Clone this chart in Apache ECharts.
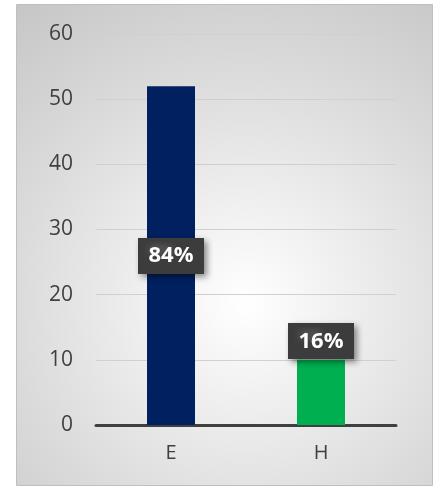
<!DOCTYPE html>
<html><head><meta charset="utf-8">
<script src="https://cdn.jsdelivr.net/npm/echarts@6/dist/echarts.min.js"></script>
<style>html,body{margin:0;padding:0;background:#fff}#c{width:435px;height:487px}</style>
</head><body><div id="c"></div>
<script>
const categories = ['E', 'H'];
const values = [52, 10];
const labels = ['84%', '16%'];
const barColors = ['#002060', '#00B050'];
const yTicks = { min: 0, max: 60, interval: 10 };

function makePattern() {
  const c = document.createElement('canvas');
  c.width = 6; c.height = 6;
  const g = c.getContext('2d');
  g.fillStyle = '#3c3c3c'; g.fillRect(0, 0, 6, 6);
  g.fillStyle = '#4e4e4e'; g.fillRect(1, 1, 2, 2);
  return c;
}
const pat = makePattern();

const chart = echarts.init(document.getElementById('c'), null, { renderer: 'canvas' });
chart.setOption({
  animation: false,
  graphic: [{
    type: 'rect', z: -10, silent: true,
    shape: { x: 16.5, y: 4.5, width: 416, height: 481 },
    style: {
      fill: { type: 'radial', x: 0.55, y: 0.62, r: 0.9,
        colorStops: [{ offset: 0, color: '#ffffff' }, { offset: 0.6, color: '#dcdcdc' }, { offset: 1, color: '#c6c6c6' }] },
      stroke: '#bfbfbf', lineWidth: 1
    }
  }],
  grid: { left: 96, right: 39, top: 34, bottom: 62, containLabel: false },
  xAxis: {
    type: 'category', data: categories,
    axisLine: { lineStyle: { color: '#404040', width: 3 } },
    axisTick: { show: false },
    axisLabel: { color: '#404040', fontSize: 20, fontFamily: 'Open Sans', margin: 18 }
  },
  yAxis: {
    type: 'value', min: yTicks.min, max: yTicks.max, interval: yTicks.interval,
    axisLine: { show: false }, axisTick: { show: false },
    axisLabel: { color: '#404040', fontSize: 21, fontFamily: 'Open Sans', margin: 23 },
    splitLine: { lineStyle: { color: '#d0d0d0', width: 1 } }
  },
  series: [{
    type: 'bar', barWidth: 48,
    data: values.map((v, i) => ({
      value: v,
      itemStyle: { color: barColors[i] },
      label: {
        show: true,
        position: v > 20 ? 'inside' : 'top',
        distance: 1,
        formatter: labels[i],
        color: '#ffffff', fontWeight: 'bold', fontSize: 22, fontFamily: 'Open Sans',
        backgroundColor: { image: pat },
        padding: [8, 11, 6, 11],
        shadowBlur: 6, shadowColor: 'rgba(0,0,0,0.45)', shadowOffsetX: 3, shadowOffsetY: 3
      }
    }))
  }]
});
</script></body></html>
